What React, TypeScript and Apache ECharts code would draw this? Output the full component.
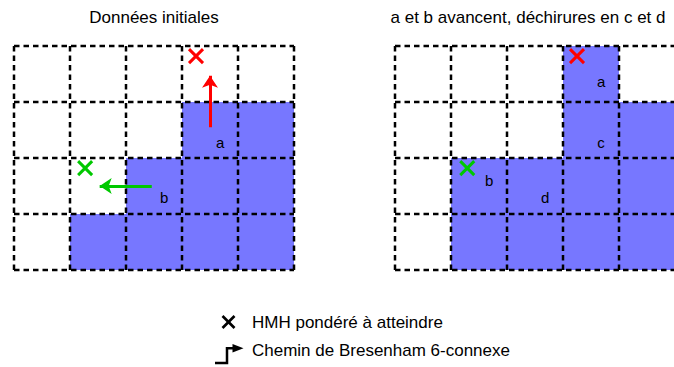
import React, { useEffect, useRef } from "react";
import * as echarts from "echarts";

const COLS = 5;
const ROWS = 4;
// filled cells [col, rowFromBottom]
const leftCells: [number, number][] = [
  [1, 0], [2, 0], [3, 0], [4, 0],
  [2, 1], [3, 1], [4, 1],
  [3, 2], [4, 2],
];
const rightCells: [number, number][] = [
  [1, 0], [2, 0], [3, 0], [4, 0],
  [1, 1], [2, 1], [3, 1], [4, 1],
  [3, 2], [4, 2],
  [3, 3],
];
// targets (HMH) [x, y]
const leftRedTarget: [number, number][] = [[3.25, 3.82]];
const leftGreenTarget: [number, number][] = [[1.27, 1.82]];
const rightRedTarget: [number, number][] = [[3.25, 3.82]];
const rightGreenTarget: [number, number][] = [[1.29, 1.82]];
// arrows [[x1,y1],[x2,y2]]
const redArrow: [number, number][] = [[3.5, 2.55], [3.5, 3.47]];
const greenArrow: [number, number][] = [[2.46, 1.5], [1.53, 1.5]];
// labels [text, x, y]
const leftLabels: [string, number, number][] = [["a", 3.68, 2.27], ["b", 2.68, 1.3]];
const rightLabels: [string, number, number][] = [
  ["a", 3.68, 3.37], ["c", 3.68, 2.27], ["b", 1.68, 1.59], ["d", 2.68, 1.3],
];
const titles = ["Données initiales", "a et b avancent, déchirures en c et d"];
const legendTexts = ["HMH pondéré à atteindre", "Chemin de Bresenham 6-connexe"];

const FONT = "Liberation Sans";
const FILL = "#7777ff";
const RED = "#ff0000";
const GREEN = "#00c800";

function gridSegments(withRightBorder: boolean): number[][] {
  const segs: number[][] = [];
  const lastCol = withRightBorder ? COLS : COLS - 1;
  for (let c = 0; c <= lastCol; c++) segs.push([c, 0, c, ROWS]);
  for (let r = 0; r <= ROWS; r++) segs.push([0, r, COLS, r]);
  return segs;
}

function cellSeries(idx: number, data: [number, number][]) {
  return {
    type: "custom",
    xAxisIndex: idx,
    yAxisIndex: idx,
    z: 1,
    silent: true,
    clip: false,
    data,
    renderItem: (_p: any, api: any) => {
      const a = api.coord([api.value(0), api.value(1) + 1]);
      const b = api.coord([api.value(0) + 1, api.value(1)]);
      return {
        type: "rect",
        shape: { x: a[0], y: a[1], width: b[0] - a[0], height: b[1] - a[1] },
        style: { fill: FILL },
      };
    },
  };
}

function lineSeries(idx: number, withRightBorder: boolean) {
  return {
    type: "custom",
    xAxisIndex: idx,
    yAxisIndex: idx,
    z: 2,
    silent: true,
    clip: false,
    data: gridSegments(withRightBorder),
    renderItem: (_p: any, api: any) => {
      const a = api.coord([api.value(0), api.value(1)]);
      const b = api.coord([api.value(2), api.value(3)]);
      return {
        type: "line",
        shape: { x1: a[0], y1: a[1], x2: b[0], y2: b[1] },
        style: { stroke: "#000", lineWidth: 2.5, lineDash: [5.5, 4] },
      };
    },
  };
}

function crossSeries(idx: number, data: [number, number][], color: string) {
  return {
    type: "custom",
    xAxisIndex: idx,
    yAxisIndex: idx,
    z: 4,
    silent: true,
    data,
    renderItem: (_p: any, api: any) => {
      const c = api.coord([api.value(0), api.value(1)]);
      const h = 7;
      const st = { stroke: color, lineWidth: 3 };
      return {
        type: "group",
        children: [
          { type: "line", shape: { x1: c[0] - h, y1: c[1] - h, x2: c[0] + h, y2: c[1] + h }, style: st },
          { type: "line", shape: { x1: c[0] - h, y1: c[1] + h, x2: c[0] + h, y2: c[1] - h }, style: st },
        ],
      };
    },
  };
}

function arrowSeries(idx: number, coords: [number, number][], color: string) {
  return {
    type: "lines",
    coordinateSystem: "cartesian2d",
    xAxisIndex: idx,
    yAxisIndex: idx,
    z: 4,
    silent: true,
    symbol: ["none", "arrow"],
    symbolSize: [10, 12],
    lineStyle: { color, width: 3, opacity: 1, curveness: 0 },
    data: [{ coords }],
  };
}

function labelSeries(idx: number, data: [string, number, number][]) {
  return {
    type: "custom",
    xAxisIndex: idx,
    yAxisIndex: idx,
    z: 4,
    silent: true,
    data: data.map((d) => [d[1], d[2], d[0]]),
    renderItem: (_p: any, api: any) => {
      const c = api.coord([api.value(0), api.value(1)]);
      return {
        type: "text",
        x: c[0],
        y: c[1],
        style: {
          text: String(api.value(2)),
          fill: "#000",
          fontSize: 15,
          fontFamily: FONT,
          align: "center",
          verticalAlign: "middle",
        },
      };
    },
  };
}

export default function App() {
  const ref = useRef<HTMLDivElement>(null);
  useEffect(() => {
    if (!ref.current) return;
    const chart = echarts.init(ref.current, undefined, { renderer: "svg" });
    const axisX = (i: number) => ({ type: "value", gridIndex: i, min: 0, max: COLS, interval: 1, show: false });
    const axisY = (i: number) => ({ type: "value", gridIndex: i, min: 0, max: ROWS, interval: 1, show: false });
    const txt = (text: string, size: number, align: string) => ({
      text, fontSize: size, fontFamily: FONT, fill: "#000", align, verticalAlign: "middle",
    });
    chart.setOption({
      animation: false,
      backgroundColor: "#fff",
      textStyle: { fontFamily: FONT },
      grid: [
        { left: 14, top: 46, width: 280, height: 224, outerBoundsMode: "none", containLabel: false },
        { left: 395, top: 46, width: 280, height: 224, outerBoundsMode: "none", containLabel: false },
      ],
      xAxis: [axisX(0), axisX(1)],
      yAxis: [axisY(0), axisY(1)],
      series: [
        cellSeries(0, leftCells),
        cellSeries(1, rightCells),
        lineSeries(0, true),
        lineSeries(1, false),
        arrowSeries(0, redArrow, RED),
        arrowSeries(0, greenArrow, GREEN),
        crossSeries(0, leftRedTarget, RED),
        crossSeries(0, leftGreenTarget, GREEN),
        crossSeries(1, rightRedTarget, RED),
        crossSeries(1, rightGreenTarget, GREEN),
        labelSeries(0, leftLabels),
        labelSeries(1, rightLabels),
      ],
      graphic: [
        { type: "text", x: 154, y: 17, style: txt(titles[0], 17, "center") },
        { type: "text", x: 528, y: 17, style: txt(titles[1], 17, "center") },
        { type: "line", shape: { x1: 222.5, y1: 316, x2: 234.5, y2: 328 }, style: { stroke: "#000", lineWidth: 2.6 } },
        { type: "line", shape: { x1: 222.5, y1: 328, x2: 234.5, y2: 316 }, style: { stroke: "#000", lineWidth: 2.6 } },
        { type: "text", x: 252, y: 322, style: txt(legendTexts[0], 17, "left") },
        {
          type: "polyline",
          shape: { points: [[215, 363], [227, 363], [227, 348.3], [233, 348.3]] },
          style: { stroke: "#000", lineWidth: 2.5, fill: "none" },
        },
        { type: "polygon", shape: { points: [[232.5, 344], [243.5, 348.3], [232.5, 352.6]] }, style: { fill: "#000" } },
        { type: "text", x: 252, y: 350, style: txt(legendTexts[1], 17, "left") },
      ],
    });
    return () => chart.dispose();
  }, []);
  return <div ref={ref} style={{ position: "absolute", left: 0, top: 0, width: 674, height: 367 }} />;
}
